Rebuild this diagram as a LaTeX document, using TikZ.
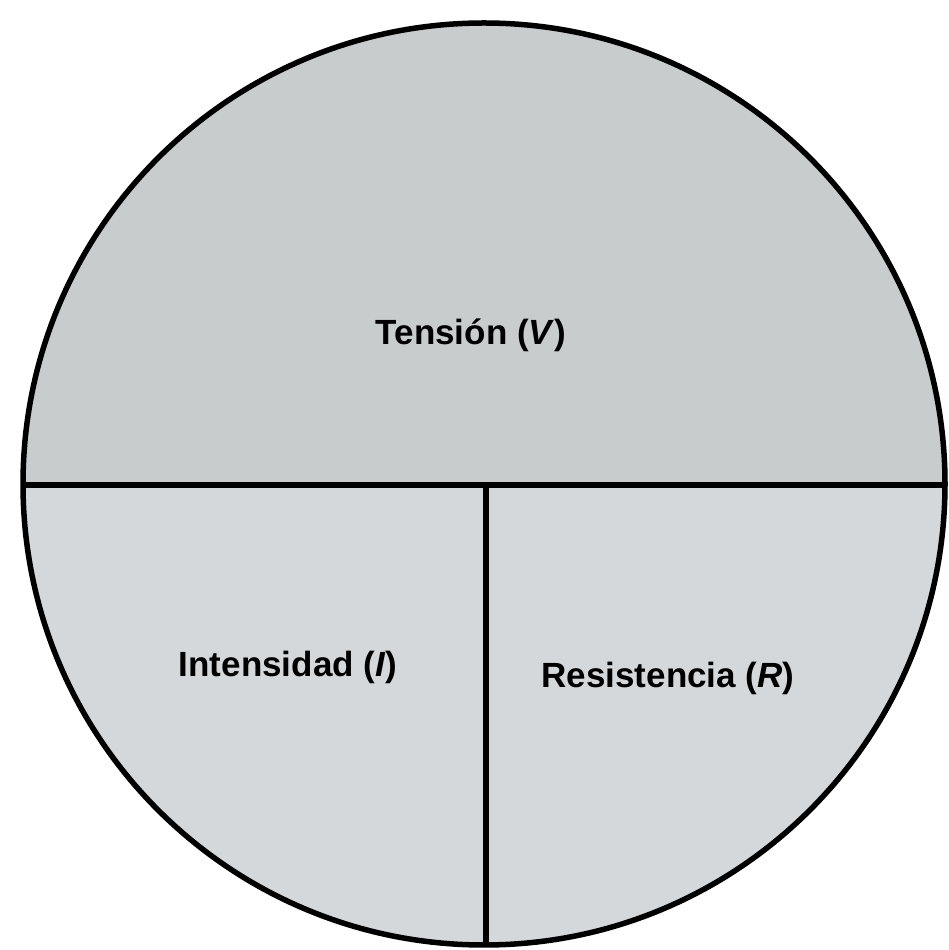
\documentclass[tikz,border=0pt]{standalone}
\usepackage{fontspec}
\setmainfont{Liberation Sans}
\definecolor{topgray}{HTML}{C8CCCC}
\definecolor{botgray}{HTML}{D4D8DA}
\tikzset{
  divline/.style={line width=5.5pt, black},
  rim/.style={line width=5.5pt, black},
  label/.style={font=\fontsize{35}{40}\selectfont\bfseries, inner sep=0pt}
}
\begin{document}
\begin{tikzpicture}[x=1pt,y=1pt]
\useasboundingbox (0,0) rectangle (949,950);
\fill[white] (0,0) rectangle (949,950);
\coordinate (c) at (484,466);
\begin{scope}
  \clip (c) circle (461);
  \fill[topgray] (0,465) rectangle (949,950);
  \fill[botgray] (0,0) rectangle (949,465);
\end{scope}
\coordinate (l) at (23,465);
\coordinate (r) at (945,465);
\coordinate (m) at (486,465);
\coordinate (b) at (486,5);
\draw[divline] (l) -- (r);
\draw[divline] (m) -- (b);
\draw[rim] (c) circle (461);
\node[label] (v) at (471,615) {Tensión (\textit{V})};
\node[label] (i) at (288,283) {Intensidad (\textit{I})};
\node[label] (rr) at (668,272) {Resistencia (\textit{R})};
\end{tikzpicture}
\end{document}
